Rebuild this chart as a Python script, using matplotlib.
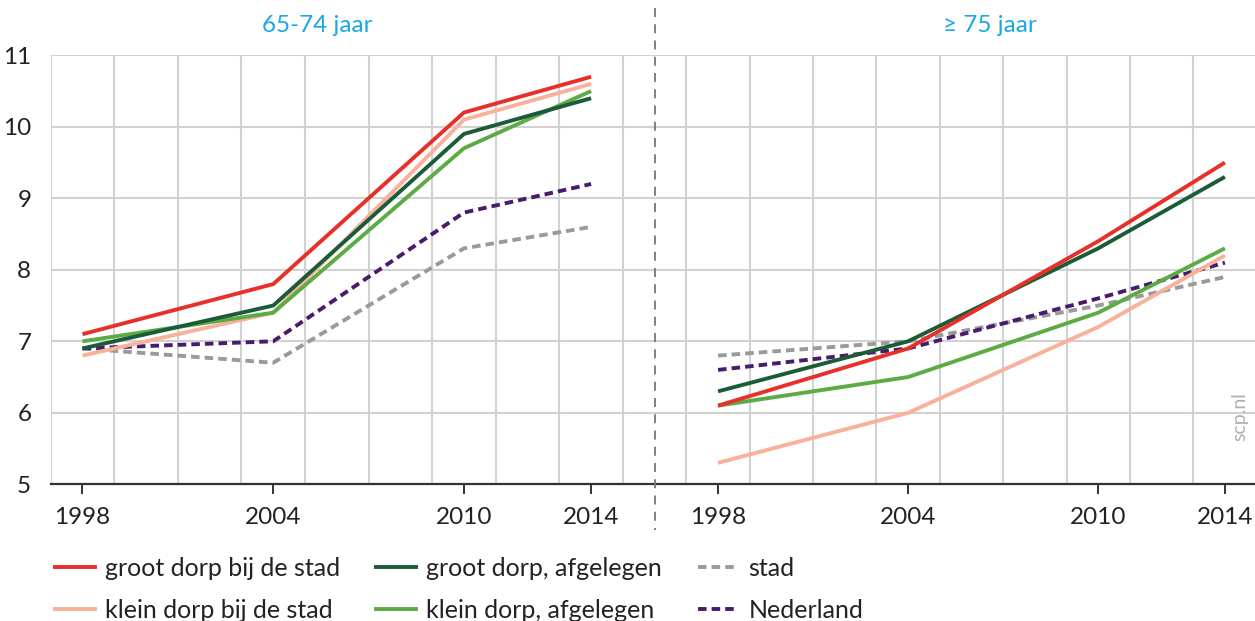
import matplotlib.pyplot as plt
from matplotlib.lines import Line2D

plt.rcParams['font.family'] = ['Lato', 'DejaVu Sans']

# data
years = [1998, 2004, 2010, 2014]
series = ["groot dorp bij de stad", "klein dorp bij de stad",
          "groot dorp, afgelegen", "klein dorp, afgelegen",
          "stad", "Nederland"]

# 65-74 jaar
young_groot_stad = [7.1, 7.8, 10.2, 10.7]
young_klein_stad = [6.8, 7.4, 10.1, 10.6]
young_groot_afg = [6.9, 7.5, 9.9, 10.4]
young_klein_afg = [7.0, 7.4, 9.7, 10.5]
young_stad = [6.9, 6.7, 8.3, 8.6]
young_nl = [6.9, 7.0, 8.8, 9.2]

# >= 75 jaar
old_groot_stad = [6.1, 6.9, 8.4, 9.5]
old_klein_stad = [5.3, 6.0, 7.2, 8.2]
old_groot_afg = [6.3, 7.0, 8.3, 9.3]
old_klein_afg = [6.1, 6.5, 7.4, 8.3]
old_stad = [6.8, 7.0, 7.5, 7.9]
old_nl = [6.6, 6.9, 7.6, 8.1]

panel_titles = ["65-74 jaar", "\u2265 75 jaar"]

colors = ['#e8302a', '#f8b19a', '#1b5c38', '#5dab45', '#9a9a9a', '#4a1a6c']
styles = ['-', '-', '-', '-', (0, (2.2, 1.3)), (0, (2.2, 1.3))]

W, H = 1255, 621
fig = plt.figure(figsize=(W / 100, H / 100), dpi=100)

bottom = 1 - 484.3 / H
height = (484.3 - 55.3) / H
ax1 = fig.add_axes([50.7 / W, bottom, (654.7 - 50.7) / W, height])
ax2 = fig.add_axes([654.7 / W, bottom, (W - 654.7) / W, height])

panels = [
    (ax1, [young_groot_stad, young_klein_stad, young_groot_afg,
           young_klein_afg, young_stad, young_nl], (1997, 2016)),
    (ax2, [old_groot_stad, old_klein_stad, old_groot_afg,
           old_klein_afg, old_stad, old_nl], (1996, 2014.95)),
]

draw_order = [4, 5, 1, 3, 2, 0]
for ax, data, xl in panels:
    for i in draw_order:
        ax.plot(years, data[i], color=colors[i], linestyle=styles[i],
                linewidth=2.8, solid_capstyle='butt', zorder=3)
    ax.set_xlim(*xl)
    ax.set_ylim(5, 11)
    for yv in range(6, 12):
        ax.axhline(yv, color='#d2d2d2', linewidth=1.5, zorder=1)
    for xv in range(1997, 2016, 2):
        ax.axvline(xv, color='#d2d2d2', linewidth=1.5, zorder=1)
    for s in ['top', 'right', 'left']:
        ax.spines[s].set_visible(False)
    ax.spines['bottom'].set_color('#333333')
    ax.spines['bottom'].set_linewidth(1.6)
    ax.spines['bottom'].set_zorder(4)
    ax.set_xticks(years)
    ax.set_xticklabels([str(y) for y in years])
    ax.tick_params(axis='x', length=7.5, width=1.4, color='#333333',
                   pad=9, labelsize=17.5, labelcolor='#222222')

ax1.set_yticks(range(5, 12))
ax1.tick_params(axis='y', length=0, pad=14, labelsize=17.5, labelcolor='#222222')
ax2.set_yticks([])

# panel titles
fig.text(317 / W, 1 - 25 / H, panel_titles[0], color='#1aa7e4', fontsize=17.5,
         ha='center', va='center')
fig.text(990 / W, 1 - 25 / H, panel_titles[1], color='#1aa7e4', fontsize=17.5,
         ha='center', va='center')

# dashed divider between the two panels
fig.add_artist(Line2D([654.7 / W, 654.7 / W], [1 - 8 / H, 1 - 530 / H],
                      color='#777777', linewidth=1.3, linestyle=(0, (5, 4))))

# watermark
fig.text(1240 / W, 1 - 417 / H, "scp.nl", color='#b0b0b0', fontsize=14,
         rotation=90, ha='center', va='center')

handles = [Line2D([], [], color=colors[i], linestyle=styles[i], linewidth=2.8)
           for i in range(6)]
fig.legend(handles, series, ncol=3, loc='upper left',
           bbox_to_anchor=(55 / W, 1 - 557 / H), frameon=False,
           fontsize=18, handlelength=1.6, handletextpad=0.4,
           columnspacing=1.45, labelspacing=0.75, borderaxespad=0,
           borderpad=0, labelcolor='#222222')

fig.savefig("out.png", dpi=100)
